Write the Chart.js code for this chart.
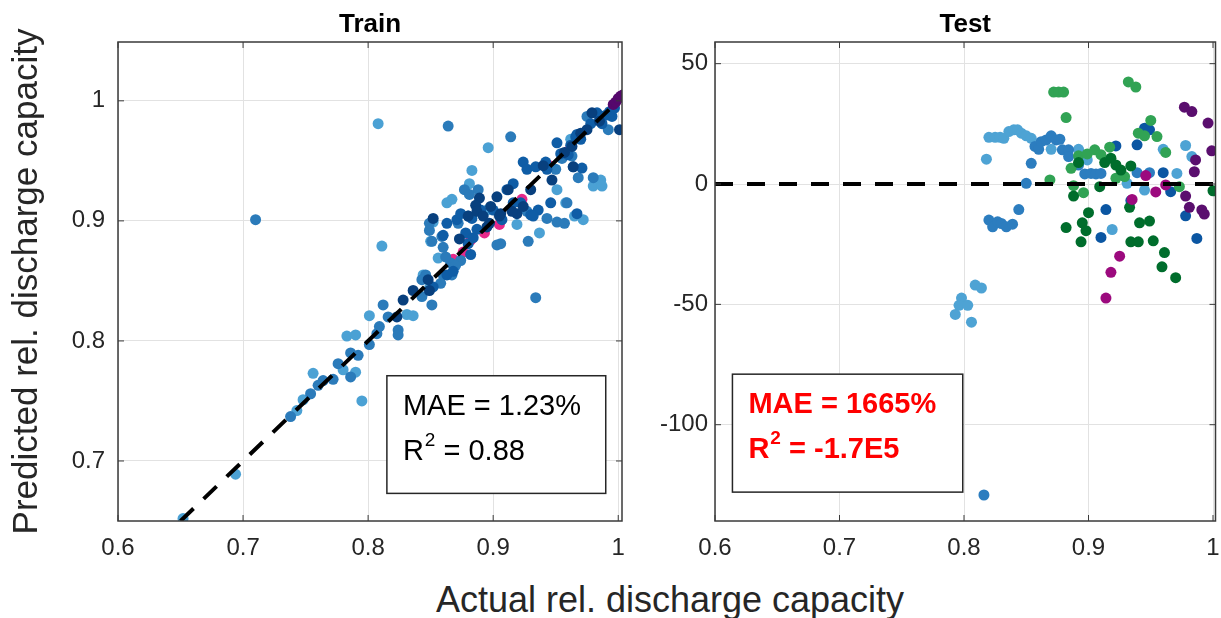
<!DOCTYPE html>
<html>
<head>
<meta charset="utf-8">
<title>Train / Test</title>
<script src="https://cdn.jsdelivr.net/npm/chart.js@4.4.1/dist/chart.umd.min.js"></script>
<style>
  body { margin: 0; background: #fff; font-family: 'Liberation Sans', Arial, Helvetica, sans-serif; }
  #page { position: relative; width: 1221px; height: 618px; overflow: hidden; }
  #trainChart { position: absolute; left: 0; top: 0; }
  #testChart { position: absolute; left: 630px; top: 0; }
  #xlabel { position: absolute; left: 0; width: 1340px; top: 582px; text-align: center;
            font-size: 36px; line-height: 36px; color: #262626; }
</style>
</head>
<body>
<div id="page">
  <canvas id="trainChart" width="640" height="570"></canvas>
  <canvas id="testChart" width="591" height="570"></canvas>
  <div id="xlabel">Actual rel. discharge capacity</div>
</div>
<script>
// ticks
var xTicks = [0.6, 0.7, 0.8, 0.9, 1];
var trainYTicks = [0.7, 0.8, 0.9, 1];
var testYTicks = [-100, -50, 0, 50];

// Train scatter, grouped by colour
var trainLightX = [0.808, 0.811, 0.795, 0.694, 0.652, 0.783, 0.790, 0.801, 0.756, 0.780, 0.743, 0.748, 0.790, 0.831, 0.836, 0.849, 0.844, 0.863, 0.867, 0.881, 0.883, 0.896, 0.852, 0.850, 0.856, 0.919, 0.937, 0.965, 0.972, 0.980, 0.986, 0.987, 0.895, 0.951, 0.962, 0.958];
var trainLightY = [0.981, 0.879, 0.750, 0.689, 0.652, 0.804, 0.805, 0.821, 0.773, 0.776, 0.742, 0.751, 0.774, 0.822, 0.821, 0.844, 0.855, 0.915, 0.918, 0.931, 0.942, 0.961, 0.899, 0.883, 0.869, 0.897, 0.890, 0.904, 0.901, 0.929, 0.934, 0.929, 0.909, 0.926, 0.968, 0.915];

var trainMidX = [0.864, 0.914, 0.710, 0.934, 0.738, 0.754, 0.764, 0.772, 0.776, 0.786, 0.786, 0.792, 0.801, 0.807, 0.812, 0.816, 0.824, 0.824, 0.851, 0.843, 0.860, 0.867, 0.866, 0.874, 0.849, 0.849, 0.860, 0.859, 0.851, 0.872, 0.880, 0.877, 0.881, 0.888, 0.903, 0.906, 0.928, 0.943, 0.951, 0.957, 0.950, 0.963, 0.964, 0.968, 0.975, 0.992, 0.980, 0.959, 0.927, 0.846, 0.843, 0.858, 0.862, 0.870, 0.809, 0.760, 0.955, 0.985];
var trainMidY = [0.979, 0.970, 0.901, 0.836, 0.737, 0.756, 0.767, 0.768, 0.781, 0.770, 0.790, 0.788, 0.797, 0.806, 0.830, 0.820, 0.809, 0.805, 0.830, 0.837, 0.855, 0.855, 0.865, 0.867, 0.892, 0.898, 0.878, 0.887, 0.883, 0.898, 0.904, 0.926, 0.922, 0.926, 0.880, 0.881, 0.883, 0.902, 0.899, 0.898, 0.943, 0.954, 0.945, 0.936, 0.987, 0.976, 0.936, 0.915, 0.908, 0.855, 0.851, 0.848, 0.870, 0.863, 0.812, 0.763, 0.952, 0.986];

var trainDarkX = [0.882, 0.880, 0.878, 0.884, 0.887, 0.900, 0.907, 0.930, 0.936, 0.924, 0.927, 0.934, 0.942, 0.943, 0.951, 0.954, 0.960, 0.966, 0.971, 0.983, 0.987, 0.995, 0.978, 0.967, 0.922, 0.932, 0.946, 0.967, 0.863, 0.871, 0.874, 0.860, 0.852, 0.863, 0.868, 0.916, 0.911, 0.883, 0.890, 0.962, 0.970, 0.990, 0.993, 0.997, 0.916];
var trainDarkY = [0.872, 0.881, 0.890, 0.886, 0.893, 0.909, 0.901, 0.905, 0.909, 0.949, 0.943, 0.945, 0.949, 0.943, 0.965, 0.956, 0.955, 0.970, 0.944, 0.990, 0.981, 0.987, 0.981, 0.972, 0.915, 0.904, 0.915, 0.906, 0.898, 0.901, 0.906, 0.888, 0.845, 0.855, 0.858, 0.931, 0.926, 0.902, 0.909, 0.963, 0.968, 0.988, 0.991, 0.994, 0.915];

var trainNavyX = [0.823, 0.828, 0.836, 0.848, 0.849, 0.889, 0.903, 0.886, 0.852, 0.906, 0.919, 0.924, 0.963, 0.964, 1.001, 0.880, 0.887, 0.892, 0.897, 0.905, 0.915, 0.912, 0.975, 0.979, 0.970, 0.947, 0.930, 0.940, 0.895, 0.873, 0.898, 0.957, 0.985];
var trainNavyY = [0.820, 0.834, 0.842, 0.851, 0.842, 0.919, 0.920, 0.913, 0.902, 0.906, 0.906, 0.912, 0.962, 0.945, 0.976, 0.904, 0.908, 0.904, 0.898, 0.904, 0.908, 0.926, 0.976, 0.990, 0.973, 0.934, 0.926, 0.946, 0.895, 0.885, 0.912, 0.957, 0.983];

var trainPinkX = [0.868, 0.882, 0.905, 0.923, 0.945, 0.960, 0.876, 0.893];
var trainPinkY = [0.868, 0.884, 0.897, 0.918, 0.946, 0.958, 0.874, 0.890];

var trainPurpleX = [0.996, 0.998, 1.000, 1.002, 1.004];
var trainPurpleY = [0.997, 0.999, 1.002, 1.004, 1.005];

// Test scatter, grouped by colour
var testLightBlueX = [0.818, 0.820, 0.825, 0.829, 0.832, 0.836, 0.840, 0.843, 0.846, 0.850, 0.854, 0.870, 0.892, 0.899, 0.931, 0.945, 0.960, 0.971, 0.978, 0.983, 0.919, 0.809, 0.814, 0.798, 0.796, 0.803, 0.793, 0.806];
var testLightBlueY = [10.3, 19.4, 19.4, 19.4, 19.0, 21.8, 22.5, 22.5, 21.1, 20.0, 19.0, 14.4, 14.4, 10.0, 0.3, -2.5, 14.4, 4.4, 16.0, 11.4, -18.9, -42.0, -43.2, -47.4, -50.4, -50.4, -54.2, -57.4];

var testMidBlueX = [0.857, 0.860, 0.862, 0.866, 0.870, 0.874, 0.877, 0.879, 0.884, 0.884, 0.892, 0.854, 0.850, 0.939, 0.949, 0.844, 0.820, 0.823, 0.827, 0.830, 0.834, 0.839, 0.816, 0.897, 0.902, 0.906, 0.910];
var testMidBlueY = [15.6, 14.4, 17.6, 18.3, 20.0, 18.3, 18.6, 14.2, 14.2, 11.4, 7.9, 8.6, 0.3, 4.7, 4.7, -10.6, -15.0, -17.8, -15.7, -16.4, -17.8, -16.7, -129.2, 4.2, 4.4, 4.2, 4.4];

var testDarkBlueX = [0.922, 0.934, 0.939, 0.945, 0.949, 0.960, 0.966, 0.978, 0.987, 0.914, 0.910];
var testDarkBlueY = [15.8, -6.9, 16.3, 23.2, 22.5, 4.7, -3.2, -13.2, -22.6, -10.6, -22.2];

var testLightGreenX = [0.872, 0.876, 0.880, 0.882, 0.932, 0.938, 0.950, 0.940, 0.945, 0.955, 0.962, 0.869, 0.886, 0.892, 0.899, 0.905, 0.910, 0.917, 0.922, 0.929, 0.896, 0.888, 0.973];
var testLightGreenY = [38.2, 38.2, 38.2, 27.6, 42.4, 40.3, 26.4, 21.1, 20.0, 19.7, 13.1, 1.7, 6.5, 11.7, 12.5, 14.2, 12.2, 15.3, 2.4, 3.1, -3.6, -0.7, -1.1];

var testDarkGreenX = [0.892, 0.888, 0.909, 0.913, 0.918, 0.922, 0.926, 0.934, 0.900, 0.895, 0.898, 0.882, 0.894, 0.933, 0.941, 0.949, 0.934, 0.940, 0.952, 0.961, 0.959, 0.970, 1.000];
var testDarkGreenY = [8.9, -5.0, -1.1, 8.9, 10.7, 7.9, 5.8, 7.5, -11.9, -16.1, -19.4, -18.1, -24.0, -9.7, -16.1, -15.4, -24.0, -24.0, -23.6, -28.5, -34.4, -38.9, -2.8];

var testMagentaX = [0.925, 0.918, 0.914, 0.954, 0.946, 0.935, 0.962];
var testMagentaY = [-30.0, -36.7, -47.4, -3.3, 3.5, -6.4, -0.4];

var testPurpleX = [0.977, 0.983, 0.996, 0.999, 0.986, 0.985, 0.978, 0.981, 0.991, 0.993];
var testPurpleY = [31.9, 30.1, 25.3, 13.8, 10.0, 5.1, -5.0, -9.7, -10.8, -12.5];

// reference (perfect prediction) lines
var trainRefX = [0.65, 1.0];
var trainRefY = [0.65, 1.0];
var testRefX = [0.6, 1.0];
var testRefY = [0, 0];

var FONT = "'Liberation Sans', Arial, Helvetica, sans-serif";
var AXIS_COLOR = '#262626';

// zip two arrays into {x, y} points
function pts(xs, ys) {
  var out = [];
  for (var i = 0; i < xs.length; i++) {
    out.push({ x: xs[i], y: ys[i] });
  }
  return out;
}

function dots(xs, ys, color, order) {
  return {
    type: 'scatter',
    data: pts(xs, ys),
    backgroundColor: color,
    borderWidth: 0,
    pointRadius: 5.5,
    pointHoverRadius: 5.5,
    order: order
  };
}

function dashed(xs, ys) {
  return {
    type: 'line',
    data: pts(xs, ys),
    borderColor: '#000',
    borderWidth: 4,
    borderDash: [18, 14],
    pointRadius: 0,
    fill: false,
    order: 0
  };
}

// keep axis boxes at a fixed size so both plot areas line up
function fixedSize(size) {
  return function (s) {
    if (s.isHorizontal()) s.height = size; else s.width = size;
    s.paddingLeft = 0; s.paddingRight = 0; s.paddingTop = 0; s.paddingBottom = 0;
  };
}

function setTicks(list) {
  return function (s) {
    s.ticks = list.map(function (v) { return { value: v }; });
  };
}

// box, inward ticks, subplot title and the stats box
var framePlugin = {
  id: 'frame',
  afterDraw: function (chart, args, opts) {
    var a = chart.chartArea, ctx = chart.ctx;
    var xs = chart.scales.x, ys = chart.scales.y;
    ctx.save();

    ctx.strokeStyle = '#3a3a3a';
    ctx.lineWidth = 1.5;
    ctx.strokeRect(a.left, a.top, a.right - a.left, a.bottom - a.top);

    ctx.lineWidth = 1;
    ctx.beginPath();
    opts.xTicks.forEach(function (v) {
      var p = xs.getPixelForValue(v);
      ctx.moveTo(p, a.bottom); ctx.lineTo(p, a.bottom - 6);
      ctx.moveTo(p, a.top); ctx.lineTo(p, a.top + 6);
    });
    opts.yTicks.forEach(function (v) {
      var p = ys.getPixelForValue(v);
      ctx.moveTo(a.left, p); ctx.lineTo(a.left + 6, p);
      ctx.moveTo(a.right, p); ctx.lineTo(a.right - 6, p);
    });
    ctx.stroke();

    // title
    ctx.fillStyle = '#000';
    ctx.font = 'bold 26px ' + FONT;
    ctx.textAlign = 'center';
    ctx.textBaseline = 'alphabetic';
    ctx.fillText(opts.title, (a.left + a.right) / 2, a.top - 10);

    // stats box
    var b = opts.box;
    var l = xs.getPixelForValue(b.x0), r = xs.getPixelForValue(b.x1);
    var t = ys.getPixelForValue(b.y0), btm = ys.getPixelForValue(b.y1);
    ctx.fillStyle = '#fff';
    ctx.fillRect(l, t, r - l, btm - t);
    ctx.strokeStyle = '#262626';
    ctx.lineWidth = 1.5;
    ctx.strokeRect(l, t, r - l, btm - t);

    var weight = b.bold ? 'bold ' : '';
    ctx.fillStyle = b.color;
    ctx.textAlign = 'left';
    ctx.font = weight + '29px ' + FONT;
    ctx.fillText(b.mae, l + 16, t + 39);
    var x = l + 16;
    ctx.fillText('R', x, t + 84);
    x += ctx.measureText('R').width;
    ctx.font = weight + '19px ' + FONT;
    ctx.fillText('2', x + 1, t + 70);
    x += ctx.measureText('2').width + 1;
    ctx.font = weight + '29px ' + FONT;
    ctx.fillText(b.r2, x, t + 84);

    ctx.restore();
  }
};

function axes(xMax, yMin, yMax, yTicks, yWidth, yTitle, yPad) {
  var tickFont = { family: FONT, size: 24 };
  return {
    x: {
      type: 'linear', min: 0.6, max: xMax,
      afterBuildTicks: setTicks(xTicks),
      afterFit: fixedSize(49),
      grid: { color: '#e2e2e2', drawTicks: false },
      border: { display: false },
      ticks: { autoSkip: false, padding: 13, color: AXIS_COLOR, font: tickFont,
               callback: function (v) { return String(v); } }
    },
    y: {
      type: 'linear', min: yMin, max: yMax,
      afterBuildTicks: setTicks(yTicks),
      afterFit: fixedSize(yWidth),
      grid: { color: '#e2e2e2', drawTicks: false },
      border: { display: false },
      title: yTitle ? { display: true, text: yTitle, color: AXIS_COLOR,
                        font: { family: FONT, size: 35 }, padding: { top: 6, bottom: 0 } }
                    : { display: false },
      ticks: { autoSkip: false, padding: yPad, color: AXIS_COLOR, font: tickFont,
               callback: function (v) { return String(v); } }
    }
  };
}

new Chart(document.getElementById('trainChart'), {
  type: 'scatter',
  data: {
    datasets: [
      dashed(trainRefX, trainRefY),
      dots(trainPurpleX, trainPurpleY, '#55086c', 1),
      dots(trainNavyX, trainNavyY, '#08407e', 2),
      dots(trainDarkX, trainDarkY, '#0f5da6', 3),
      dots(trainMidX, trainMidY, '#2b7bba', 4),
      dots(trainLightX, trainLightY, '#4ba1d4', 5),
      dots(trainPinkX, trainPinkY, '#e7298a', 6)
    ]
  },
  options: {
    responsive: false,
    animation: false,
    layout: { padding: { top: 42, left: 0, right: 18, bottom: 0 } },
    plugins: {
      legend: { display: false },
      tooltip: { enabled: false },
      frame: {
        title: 'Train', xTicks: xTicks, yTicks: trainYTicks,
        box: { x0: 0.815, x1: 0.990, y0: 0.771, y1: 0.673,
               mae: 'MAE = 1.23%', r2: ' = 0.88', color: '#000', bold: false }
      }
    },
    scales: axes(1.003, 0.65, 1.049, trainYTicks, 118, 'Predicted rel. discharge capacity', 13)
  },
  plugins: [framePlugin]
});

new Chart(document.getElementById('testChart'), {
  type: 'scatter',
  data: {
    datasets: [
      dashed(testRefX, testRefY),
      dots(testPurpleX, testPurpleY, '#5a0e6e', 1),
      dots(testMagentaX, testMagentaY, '#9c0a7e', 2),
      dots(testDarkGreenX, testDarkGreenY, '#006d2c', 3),
      dots(testLightGreenX, testLightGreenY, '#31a354', 4),
      dots(testDarkBlueX, testDarkBlueY, '#0b56a2', 5),
      dots(testMidBlueX, testMidBlueY, '#2c7dbf', 6),
      dots(testLightBlueX, testLightBlueY, '#4ea3d4', 7)
    ]
  },
  options: {
    responsive: false,
    animation: false,
    layout: { padding: { top: 42, left: 0, right: 3, bottom: 0 } },
    plugins: {
      legend: { display: false },
      tooltip: { enabled: false },
      frame: {
        title: 'Test', xTicks: xTicks, yTicks: testYTicks,
        box: { x0: 0.614, x1: 0.799, y0: -79, y1: -128,
               mae: 'MAE = 1665%', r2: ' = -1.7E5', color: '#ff0000', bold: true }
      }
    },
    scales: axes(1.002, -140, 59, testYTicks, 85, null, 7)
  },
  plugins: [framePlugin]
});
</script>
</body>
</html>
